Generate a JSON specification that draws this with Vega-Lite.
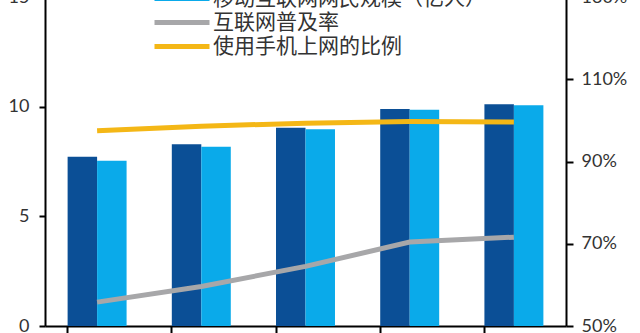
{
  "$schema": "https://vega.github.io/schema/vega-lite/v6.json",
  "autosize": {"type": "none"},
  "width": 521,
  "height": 329,
  "padding": {"left": 45, "top": -3, "right": 74, "bottom": 7},
  "background": "white",
  "config": {
    "view": {"stroke": null},
    "axis": {
      "grid": false,
      "domainColor": "#000000",
      "domainWidth": 2,
      "tickColor": "#000000",
      "tickWidth": 2,
      "labelFont": "Lato",
      "labelFontSize": 18,
      "labelColor": "#333333",
      "title": null
    }
  },
  "data": {
    "values": [
      {"period": "2017.12", "series": "网民规模（亿人）", "kind": "bar", "value": 7.72},
      {"period": "2018.12", "series": "网民规模（亿人）", "kind": "bar", "value": 8.29},
      {"period": "2020.3", "series": "网民规模（亿人）", "kind": "bar", "value": 9.04},
      {"period": "2020.12", "series": "网民规模（亿人）", "kind": "bar", "value": 9.89},
      {"period": "2021.6", "series": "网民规模（亿人）", "kind": "bar", "value": 10.11},
      {"period": "2017.12", "series": "移动互联网网民规模（亿人）", "kind": "bar", "value": 7.53},
      {"period": "2018.12", "series": "移动互联网网民规模（亿人）", "kind": "bar", "value": 8.17},
      {"period": "2020.3", "series": "移动互联网网民规模（亿人）", "kind": "bar", "value": 8.97},
      {"period": "2020.12", "series": "移动互联网网民规模（亿人）", "kind": "bar", "value": 9.86},
      {"period": "2021.6", "series": "移动互联网网民规模（亿人）", "kind": "bar", "value": 10.07},
      {"period": "2017.12", "series": "互联网普及率", "kind": "line", "value": 55.8},
      {"period": "2018.12", "series": "互联网普及率", "kind": "line", "value": 59.6},
      {"period": "2020.3", "series": "互联网普及率", "kind": "line", "value": 64.5},
      {"period": "2020.12", "series": "互联网普及率", "kind": "line", "value": 70.4},
      {"period": "2021.6", "series": "互联网普及率", "kind": "line", "value": 71.6},
      {"period": "2017.12", "series": "使用手机上网的比例", "kind": "line", "value": 97.5},
      {"period": "2018.12", "series": "使用手机上网的比例", "kind": "line", "value": 98.6},
      {"period": "2020.3", "series": "使用手机上网的比例", "kind": "line", "value": 99.3},
      {"period": "2020.12", "series": "使用手机上网的比例", "kind": "line", "value": 99.7},
      {"period": "2021.6", "series": "使用手机上网的比例", "kind": "line", "value": 99.6}
    ]
  },
  "encoding": {
    "x": {
      "field": "period",
      "type": "nominal",
      "sort": null,
      "scale": {"paddingInner": 0.434, "paddingOuter": 0.217},
      "axis": {"bandPosition": 0, "tickSize": 7, "labels": false}
    },
    "color": {
      "field": "series",
      "type": "nominal",
      "scale": {
        "domain": ["网民规模（亿人）", "移动互联网网民规模（亿人）", "互联网普及率", "使用手机上网的比例"],
        "range": ["#0b4f96", "#0aaaea", "#a7a7a9", "#f4b716"]
      },
      "legend": {
        "orient": "none",
        "legendX": 107,
        "legendY": -36,
        "direction": "vertical",
        "title": null,
        "padding": 0,
        "rowPadding": 0,
        "symbolType": "M-1,0H4",
        "symbolSize": 484,
        "symbolStrokeWidth": 5,
        "labelFont": "Noto Sans CJK SC",
        "labelFontSize": 21,
        "labelColor": "#333333",
        "labelOffset": 34,
        "labelLimit": 400,
        "symbolOpacity": 1
      }
    }
  },
  "layer": [
    {
      "transform": [{"filter": "datum.kind == 'bar'"}],
      "mark": {"type": "bar"},
      "encoding": {
        "xOffset": {"field": "series", "type": "nominal", "sort": ["网民规模（亿人）", "移动互联网网民规模（亿人）"]},
        "y": {
          "field": "value",
          "type": "quantitative",
          "scale": {"domain": [0, 15], "nice": false},
          "axis": {"values": [0, 5, 10, 15], "tickSize": 6, "labelPadding": 10}
        }
      }
    },
    {
      "transform": [{"filter": "datum.kind == 'line'"}],
      "mark": {"type": "line", "strokeWidth": 5},
      "encoding": {
        "y": {
          "field": "value",
          "type": "quantitative",
          "scale": {"domain": [50, 130], "nice": false, "zero": false},
          "axis": {"orient": "right", "values": [50, 70, 90, 110, 130], "labelExpr": "datum.value + '%'", "tickSize": 7, "labelPadding": 8}
        }
      }
    }
  ],
  "resolve": {"scale": {"y": "independent"}}
}
